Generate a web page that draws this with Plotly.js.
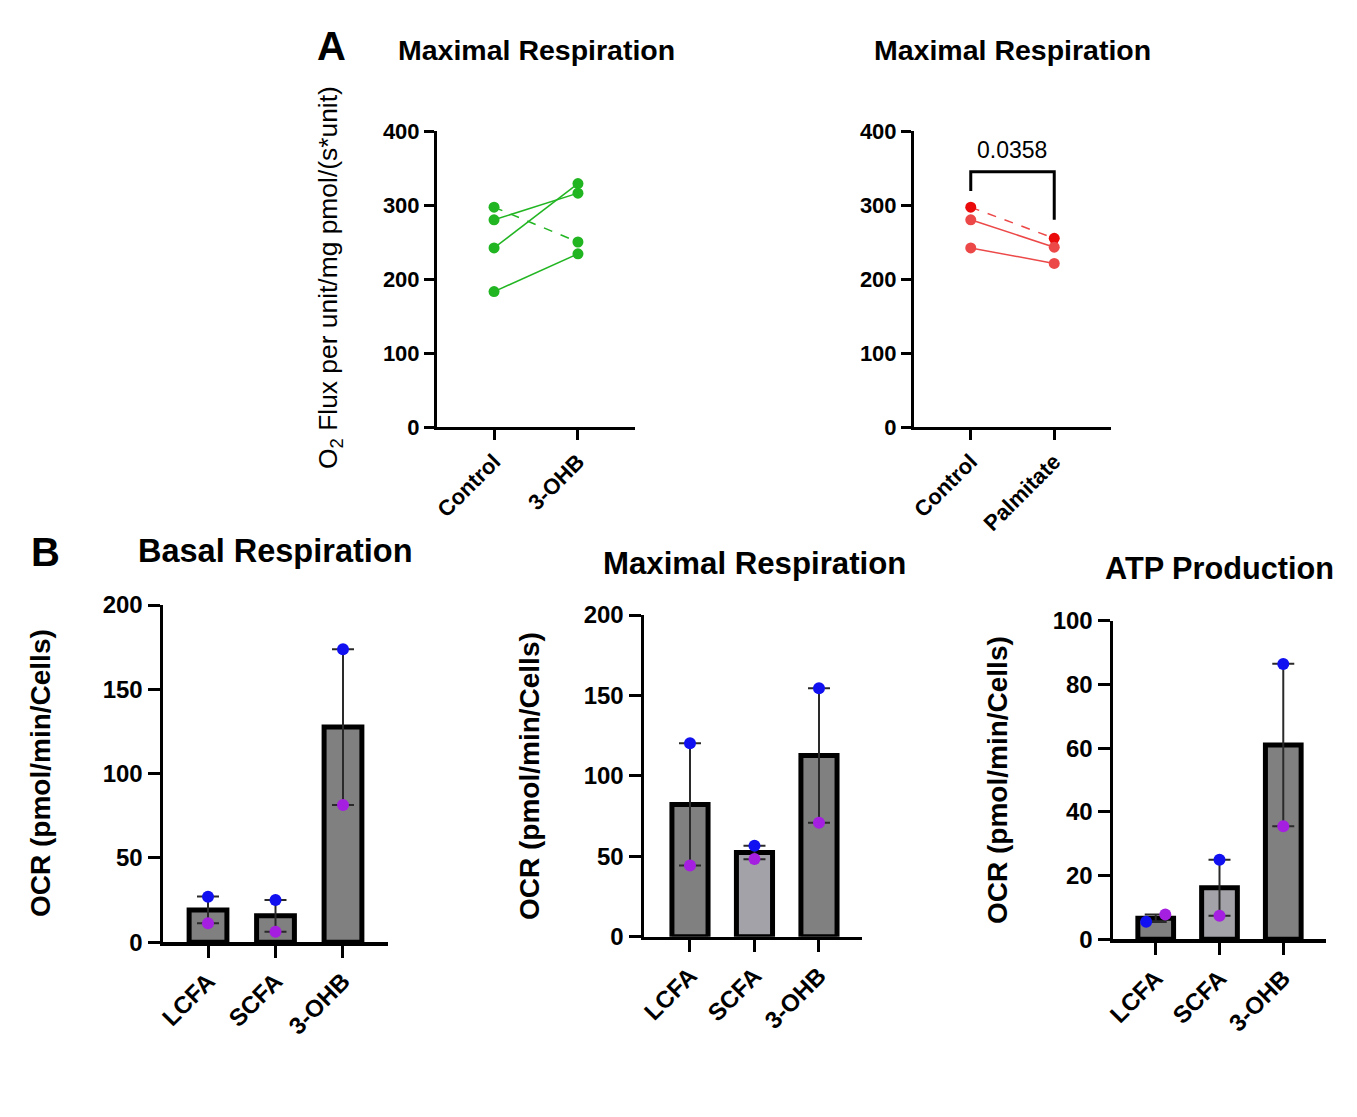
<!DOCTYPE html>
<html><head><meta charset="utf-8">
<script src="https://cdn.plot.ly/plotly-3.0.1.min.js"></script>
<style>html,body{margin:0;padding:0;background:#fff}#chart{width:1357px;height:1117px}</style>
</head><body><div id="chart"></div>
<script>
// ---------- DATA ----------
const a1Categories = ['Control', '3-OHB'];
const a1Control = [297, 280, 242, 183];
const a1Treated = [250, 316, 329, 234];
const a1Dashed = [true, false, false, false];

const a2Categories = ['Control', 'Palmitate'];
const a2Control = [297, 280, 242];
const a2Treated = [255, 243, 221];
const a2Dashed = [true, false, false];
const a2PValue = '0.0358';
const a2BracketY = [319, 345, 345, 280];

const bCategories = ['LCFA', 'SCFA', '3-OHB'];

const basalBlue = [27.0, 25.1, 173.8];
const basalPurple = [11.3, 6.3, 81.4];
const basalMean = [19.2, 15.7, 127.6];
const basalSem = [7.9, 9.4, 46.2];

const maxBlue = [120.3, 56.6, 154.5];
const maxPurple = [44.2, 48.3, 70.9];
const maxMean = [82.2, 52.4, 112.7];
const maxSem = [38.0, 4.2, 41.8];

const atpBlue = [5.5, 25.0, 86.4];
const atpPurple = [7.8, 7.4, 35.5];
const atpMean = [6.6, 16.2, 61.0];
const atpSem = [1.2, 8.8, 25.5];
const atpBlueJitter = [-0.15, 0, 0];
const atpPurpleJitter = [0.15, 0, 0];

// ---------- STYLE ----------
const W = 1357, H = 1117;
const FONT = "Arial, 'Liberation Sans', sans-serif";
const GREEN = '#22b522';
const RED_DARK = '#ea0a0a';
const RED_LIGHT = '#ec4848';
const BLUE = '#1010f0';
const PURPLE = '#a41fe0';
const GRAY_DARK = '#808080';
const GRAY_LIGHT = '#a2a2a8';

const px = v => v / W;
const py = v => 1 - v / H;

function axis(extra, fontSize) {
  return Object.assign({
    showline: true, linecolor: '#000', linewidth: 3,
    ticks: 'outside', ticklen: 10, tickwidth: 3, tickcolor: '#000',
    showgrid: false, zeroline: false, fixedrange: true,
    tickfont: {family: FONT, size: fontSize, color: '#000', weight: 700}
  }, extra);
}

const traces = [];

// Panel A1
a1Control.forEach((c, i) => {
  traces.push({
    type: 'scatter', mode: 'lines+markers', xaxis: 'x', yaxis: 'y',
    x: a1Categories, y: [c, a1Treated[i]],
    line: {color: GREEN, width: 1.5, dash: a1Dashed[i] ? 'dash' : 'solid'},
    marker: {color: GREEN, size: 11}, hoverinfo: 'skip'
  });
});

// Panel A2
a2Control.forEach((c, i) => {
  const col = a2Dashed[i] ? RED_DARK : RED_LIGHT;
  traces.push({
    type: 'scatter', mode: 'lines+markers', xaxis: 'x2', yaxis: 'y2',
    x: a2Categories, y: [c, a2Treated[i]],
    line: {color: RED_LIGHT, width: 1.5, dash: a2Dashed[i] ? 'dash' : 'solid'},
    marker: {color: col, size: 11}, hoverinfo: 'skip'
  });
});
traces.push({
  type: 'scatter', mode: 'lines', xaxis: 'x2', yaxis: 'y2',
  x: [a2Categories[0], a2Categories[0], a2Categories[1], a2Categories[1]],
  y: a2BracketY, line: {color: '#000', width: 3}, hoverinfo: 'skip'
});

// Panel B helpers
function barPanel(xa, ya, mean, sem, blue, purple, colors, blueJ, purpleJ) {
  const idx = bCategories.map((_, i) => i);
  traces.push({
    type: 'bar', xaxis: xa, yaxis: ya, x: idx, y: mean, width: 0.56,
    marker: {color: colors, line: {color: '#000', width: 5}},
    error_y: {type: 'data', array: sem, visible: true, color: '#2a2a2a', thickness: 2, width: 11},
    hoverinfo: 'skip'
  });
  traces.push({
    type: 'scatter', mode: 'markers', xaxis: xa, yaxis: ya,
    x: idx.map(i => i + (purpleJ ? purpleJ[i] : 0)), y: purple,
    marker: {color: PURPLE, size: 12}, hoverinfo: 'skip'
  });
  traces.push({
    type: 'scatter', mode: 'markers', xaxis: xa, yaxis: ya,
    x: idx.map(i => i + (blueJ ? blueJ[i] : 0)), y: blue,
    marker: {color: BLUE, size: 12}, hoverinfo: 'skip'
  });
}
barPanel('x3', 'y3', basalMean, basalSem, basalBlue, basalPurple, [GRAY_DARK, GRAY_DARK, GRAY_DARK]);
barPanel('x4', 'y4', maxMean, maxSem, maxBlue, maxPurple, [GRAY_DARK, GRAY_LIGHT, GRAY_DARK]);
barPanel('x5', 'y5', atpMean, atpSem, atpBlue, atpPurple, [GRAY_DARK, GRAY_LIGHT, GRAY_DARK], atpBlueJitter, atpPurpleJitter);

const bTick = {tickmode: 'array', tickvals: [0, 1, 2], ticktext: bCategories, tickangle: -45};

const layout = {
  width: W, height: H, margin: {l: 0, r: 0, t: 0, b: 0},
  paper_bgcolor: '#fff', plot_bgcolor: 'rgba(0,0,0,0)', showlegend: false,
  bargap: 0,
  xaxis: axis({domain: [px(437), px(635)], anchor: 'y', type: 'category', range: [-0.68, 1.68], tickangle: -45}, 22),
  yaxis: axis({domain: [py(427), py(131)], anchor: 'x', range: [0, 400], dtick: 100}, 22),
  xaxis2: axis({domain: [px(914), px(1111)], anchor: 'y2', type: 'category', range: [-0.68, 1.68], tickangle: -45}, 22),
  yaxis2: axis({domain: [py(427), py(131)], anchor: 'x2', range: [0, 400], dtick: 100}, 22),
  xaxis3: axis(Object.assign({domain: [px(163), px(388)], anchor: 'y3', range: [-0.667, 2.667], ticklen: 12, linewidth: 3.5}, bTick), 24),
  yaxis3: axis({domain: [py(942.3), py(605)], anchor: 'x3', range: [0, 200], dtick: 50, ticklen: 12, linewidth: 3.5}, 24),
  xaxis4: axis(Object.assign({domain: [px(644), px(862)], anchor: 'y4', range: [-0.713, 2.667], ticklen: 12, linewidth: 3.5}, bTick), 24),
  yaxis4: axis({domain: [py(936.7), py(615)], anchor: 'x4', range: [0, 200], dtick: 50, ticklen: 12, linewidth: 3.5}, 24),
  xaxis5: axis(Object.assign({domain: [px(1113), px(1326)], anchor: 'y5', range: [-0.67, 2.67], ticklen: 12, linewidth: 3.5}, bTick), 24),
  yaxis5: axis({domain: [py(939.3), py(620.7)], anchor: 'x5', range: [0, 100], dtick: 20, ticklen: 12, linewidth: 3.5}, 24),
  annotations: []
};

function note(text, x, y, size, weight, angle) {
  layout.annotations.push({
    text: text, xref: 'paper', yref: 'paper', x: px(x), y: py(y),
    xanchor: 'center', yanchor: 'middle', showarrow: false,
    textangle: angle || 0,
    font: {family: FONT, size: size, color: '#000', weight: weight}
  });
}
note('A', 331, 46, 40, 700);
note('B', 45, 552, 40, 700);
note('Maximal Respiration', 536, 50, 28.5, 700);
note('Maximal Respiration', 1012, 50, 28.5, 700);
note('Basal Respiration', 275, 551, 32.5, 700);
note('Maximal Respiration', 754, 563, 31.2, 700);
note('ATP Production', 1219, 568, 30.7, 700);
note('O<sub>2</sub> Flux per unit/mg pmol/(s*unit)', 330, 278, 26.4, 500, -90);
note('OCR (pmol/min/Cells)', 40, 773, 28, 700, -90);
note('OCR (pmol/min/Cells)', 530, 776, 28, 700, -90);
note('OCR (pmol/min/Cells)', 998, 780, 28, 700, -90);
note(a2PValue, 1012, 150, 23, 400);

Plotly.newPlot('chart', traces, layout, {displayModeBar: false, staticPlot: true});
</script></body></html>
